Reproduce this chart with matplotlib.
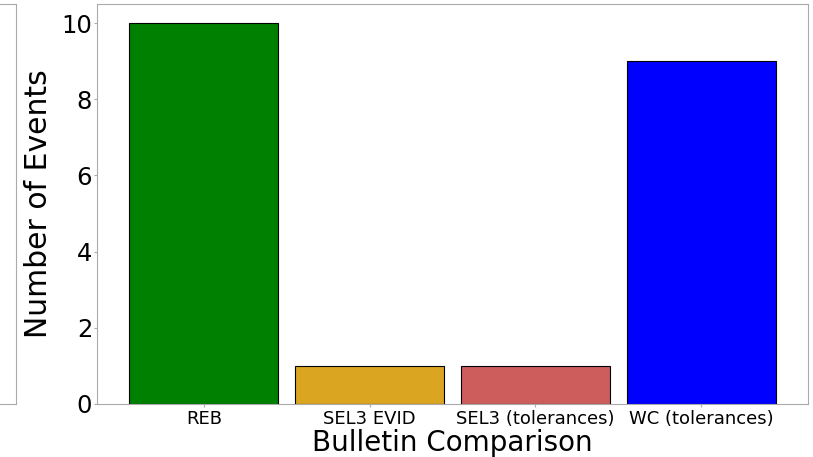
import matplotlib
matplotlib.use("Agg")
import matplotlib.pyplot as plt

categories = ["REB", "SEL3 EVID", "SEL3 (tolerances)", "WC (tolerances)"]
counts = [10, 1, 1, 9]
colors = ["green", "goldenrod", "indianred", "blue"]

fig = plt.figure(figsize=(8.13, 4.57), dpi=100)

# neighbouring panel, only its right edge is visible
ax0 = fig.add_axes([-0.4, 0.116, 0.4 + 16 / 813, 0.9912 - 0.116])
ax0.set_xticks([])
ax0.set_yticks([])
for s in ax0.spines.values():
    s.set_color("#aaaaaa")

ax = fig.add_axes([97 / 813, 0.116, (808 - 97) / 813, 0.9912 - 0.116])
x = list(range(len(categories)))
ax.bar(x, counts, width=0.9, color=colors, edgecolor="black", linewidth=0.8)
ax.set_xticks(x)
ax.set_xticklabels(categories, fontsize=13)
ax.set_yticks([0, 2, 4, 6, 8, 10])
ax.tick_params(axis="y", labelsize=17.5, length=2.5, pad=1)
ax.tick_params(axis="x", length=2, pad=2)
ax.set_ylabel("Number of Events", fontsize=21.5, labelpad=6)
ax.set_xlabel("Bulletin Comparison", fontsize=20, labelpad=1)
for s in ax.spines.values():
    s.set_color("#aaaaaa")
ax.tick_params(colors="#aaaaaa", labelcolor="black")

fig.savefig("out.png", dpi=100)
